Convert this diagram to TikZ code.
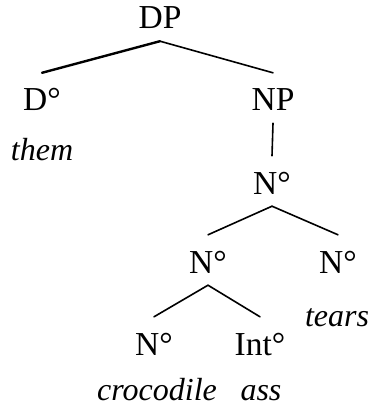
\documentclass[tikz,border=0pt]{standalone}
\usepackage{fontspec}
\setmainfont{Liberation Serif}
\newcommand{\treefont}{\fontsize{33.5}{40}\selectfont}
\newcommand{\wordfont}{\fontsize{32}{38}\selectfont\itshape}
\newcommand{\myBranch}[3][]{
\draw[branch,#1] (#2.south) -- (#3.north);
}
\tikzset{
	cat/.style={font=\treefont, inner xsep=0pt, inner ysep=0pt,
		text height=38pt, text depth=12pt, anchor=base},
	word/.style={font=\wordfont, inner sep=0pt, anchor=base},
	branch/.style={line width=1.6pt, line cap=round},
}

\begin{document}
\begin{tikzpicture}[x=1pt, y=-1pt]
	\useasboundingbox (0,0) rectangle (373,414);

	\node[cat] (dp) at (160,29) {DP};
	\node[cat] (d) at (42,111) {D°};
	\node[word] (them) at (42,160) {them};
	\node[cat] (np) at (273,111) {NP};
	\node[cat] (n1) at (272,194) {N°};
	\node[cat] (n2) at (208,273) {N°};
	\node[cat] (n3) at (338,273) {N°};
	\node[word] (tears) at (337,326) {tears};
	\node[cat] (n4) at (154,355) {N°};
	\node[cat] (intx) at (260,355) {Int°};
	\node[word] (croc) at (157,400) {crocodile};
	\node[word] (ass) at (261,400) {ass};

	\myBranch[line width=2.4pt]{dp}{d}
	\myBranch{dp}{np}
	\myBranch{np}{n1}
	\myBranch{n1}{n2}
	\myBranch{n1}{n3}
	\myBranch{n2}{n4}
	\myBranch{n2}{intx}
\end{tikzpicture}
\end{document}
